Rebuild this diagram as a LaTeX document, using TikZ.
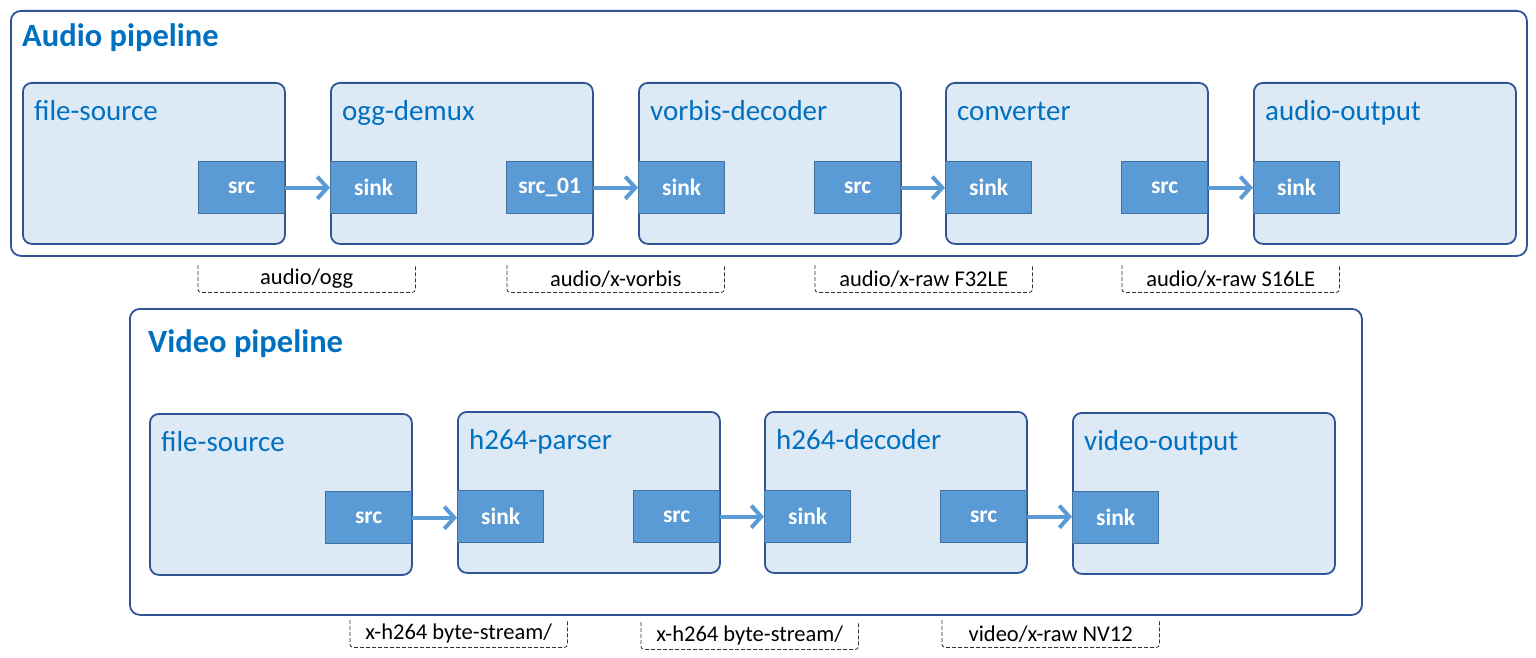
\documentclass[tikz,border=0pt]{standalone}
\usepackage{fontspec}
\setmainfont{Carlito}
\usetikzlibrary{arrows.meta}
\definecolor{outerc}{HTML}{2F5597}
\definecolor{elemfill}{HTML}{DEE9F6}
\definecolor{padfill}{HTML}{5B9BD5}
\definecolor{padline}{HTML}{41719C}
\definecolor{titlec}{HTML}{0070C0}
\tikzset{
  pipebox/.style={draw=outerc, line width=1.8pt, rounded corners=10pt, fill=white, inner sep=0pt},
  elembox/.style={draw=outerc, line width=1.8pt, rounded corners=9pt, fill=elemfill, inner sep=0pt,
    minimum width=262pt, minimum height=161pt},
  elemtitle/.style={text=titlec, font=\fontsize{29}{34}\selectfont, inner sep=0pt},
  pipetitle/.style={text=titlec, font=\fontsize{32.5}{38}\selectfont\bfseries, inner sep=0pt},
  pad/.style={draw=padline, line width=1.4pt, fill=padfill, text=white, inner sep=0pt,
    font=\fontsize{23.5}{28}\selectfont\bfseries, minimum width=86pt, minimum height=52pt},
  flow/.style={draw=padfill, line width=4pt, -{Straight Barb[length=10pt,width=22pt,line width=4pt]}},
  lbl/.style={inner sep=0pt, font=\fontsize{22.5}{27}\selectfont, minimum width=217pt, minimum height=27pt},
  lblline/.style={draw=black!80, line width=0.8pt, dashed, dash pattern=on 4pt off 2pt, rounded corners=3pt}
}
\newcommand\pipeelem[4]{%
  \node[elembox, anchor=north west] (#1) at (#2,#3) {};
  \node[elemtitle, anchor=base west] (#1t) at ([xshift=12pt,yshift=-38.5pt]#1.north west) {#4};
}
\newcommand\capsbox[4]{%
  \node[lbl, anchor=north west] (#1) at (#2,#3) {#4};
  \draw[lblline] (#1.north west) -- (#1.south west) -- (#1.south east) -- (#1.north east);
}
\begin{document}
\begin{tikzpicture}[x=1pt,y=-1pt]
\useasboundingbox (0,0) rectangle (1536,658);
% Audio pipeline
\node[pipebox, anchor=north west, minimum width=1516pt, minimum height=245pt] (audio) at (10,10) {};
\node[pipetitle, anchor=base west] (audiot) at (22,47) {Audio pipeline};
\pipeelem{a1}{22}{82}{file-source}
\pipeelem{a2}{330}{82}{ogg-demux}
\pipeelem{a3}{638}{82}{vorbis-decoder}
\pipeelem{a4}{945}{82}{converter}
\pipeelem{a5}{1253}{82}{audio-output}
\node[pad, anchor=north west] (a1src) at (198,161) {src};
\node[pad, anchor=north west] (a2sink) at (330,161) {sink};
\node[pad, anchor=north west] (a2src) at (506,161) {src\_01};
\node[pad, anchor=north west] (a3sink) at (638,161) {sink};
\node[pad, anchor=north west] (a3src) at (814,161) {src};
\node[pad, anchor=north west] (a4sink) at (945,161) {sink};
\node[pad, anchor=north west] (a4src) at (1121,161) {src};
\node[pad, anchor=north west] (a5sink) at (1253,161) {sink};
\draw[flow] (a1src.east) -- (a2sink.west);
\draw[flow] (a2src.east) -- (a3sink.west);
\draw[flow] (a3src.east) -- (a4sink.west);
\draw[flow] (a4src.east) -- (a5sink.west);
\capsbox{c1}{198}{265}{audio/ogg}
\capsbox{c2}{507}{265}{audio/x-vorbis}
\capsbox{c3}{815}{265}{audio/x-raw F32LE}
\capsbox{c4}{1122}{265}{audio/x-raw S16LE}
% Video pipeline
\node[pipebox, anchor=north west, minimum width=1232pt, minimum height=306pt] (video) at (129,308) {};
\node[pipetitle, anchor=base west] (videot) at (148,352) {Video pipeline};
\pipeelem{v1}{149}{413}{file-source}
\pipeelem{v2}{457}{411}{h264-parser}
\pipeelem{v3}{764}{411}{h264-decoder}
\pipeelem{v4}{1072}{412}{video-output}
\node[pad, anchor=north west] (v1src) at (325,491) {src};
\node[pad, anchor=north west] (v2sink) at (457,490) {sink};
\node[pad, anchor=north west] (v2src) at (633,490) {src};
\node[pad, anchor=north west] (v3sink) at (764,490) {sink};
\node[pad, anchor=north west] (v3src) at (940,490) {src};
\node[pad, anchor=north west] (v4sink) at (1072,491) {sink};
\draw[flow] (v1src.east) -- (v2sink.west |- v1src.east);
\draw[flow] (v2src.east) -- (v3sink.west);
\draw[flow] (v3src.east) -- (v4sink.west |- v3src.east);
\capsbox{c5}{350}{620}{x-h264 byte-stream/}
\capsbox{c6}{641}{622}{x-h264 byte-stream/}
\capsbox{c7}{942}{620}{video/x-raw NV12}
\end{tikzpicture}
\end{document}
